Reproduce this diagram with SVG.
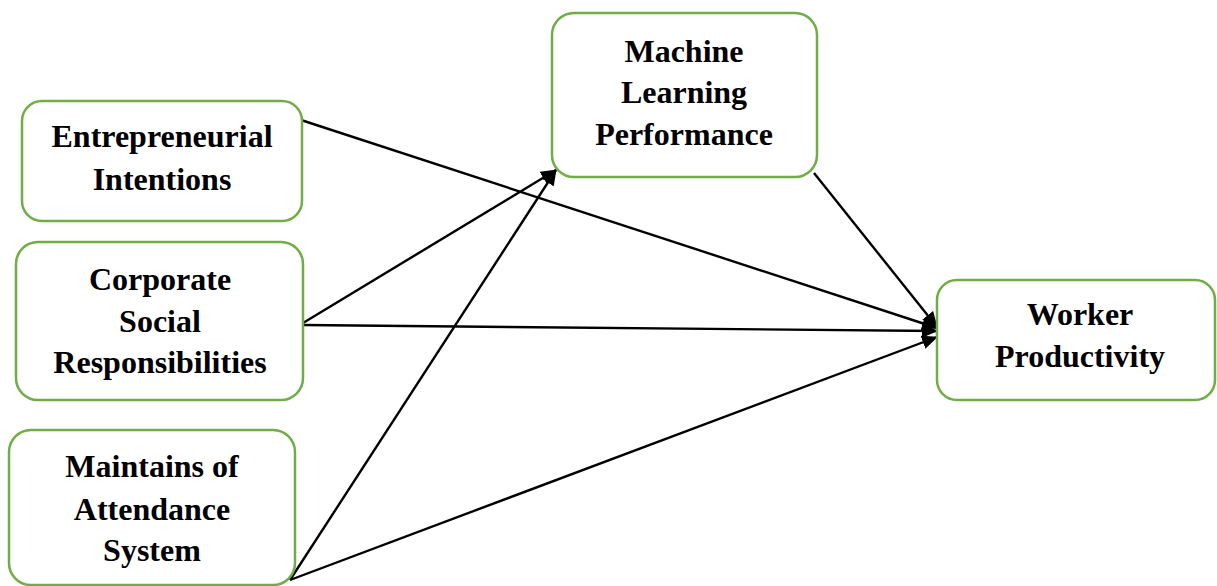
<svg xmlns="http://www.w3.org/2000/svg" width="1217" height="586" viewBox="0 0 1217 586">
<defs>
<style>
.box{fill:#fff;stroke:#70AD47;stroke-width:2.5}
.t{font-family:"Liberation Serif","Times New Roman",serif;font-weight:bold;font-size:32px;fill:#000;text-anchor:middle}
.c{stroke:#000;stroke-width:2.4;fill:none;marker-end:url(#ah)}
</style>
<marker id="ah" markerUnits="userSpaceOnUse" markerWidth="16" markerHeight="14" refX="15" refY="7" orient="auto">
<path d="M0,0 L16,7 L0,14 Z" fill="#000"/>
</marker>
</defs>
<rect width="1217" height="586" fill="#fff"/>
<g id="connectors">
<line class="c" x1="301" y1="120" x2="937" y2="328"/>
<line class="c" x1="303" y1="323" x2="556" y2="170"/>
<line class="c" x1="303" y1="325" x2="937" y2="331"/>
<line class="c" x1="290" y1="580" x2="556" y2="170"/>
<line class="c" x1="290" y1="580" x2="937" y2="337"/>
<line class="c" x1="814" y1="173" x2="937" y2="327"/>
</g>
<g id="entrepreneurial">
<rect class="box" x="22" y="101" width="280" height="120" rx="20"/>
<text class="t" x="162" y="147">Entrepreneurial</text>
<text class="t" x="162" y="190">Intentions</text>
</g>
<g id="corporate">
<rect class="box" x="16" y="242" width="287" height="158" rx="22"/>
<text class="t" x="160" y="290">Corporate</text>
<text class="t" x="160" y="332">Social</text>
<text class="t" x="160" y="373">Responsibilities</text>
</g>
<g id="maintains">
<rect class="box" x="9" y="430" width="286" height="155" rx="22"/>
<text class="t" x="152" y="477">Maintains of</text>
<text class="t" x="152" y="520">Attendance</text>
<text class="t" x="152" y="561">System</text>
</g>
<g id="machine">
<rect class="box" x="552" y="13" width="265" height="164" rx="22"/>
<text class="t" x="684" y="62">Machine</text>
<text class="t" x="684" y="103">Learning</text>
<text class="t" x="684" y="145">Performance</text>
</g>
<g id="worker">
<rect class="box" x="937" y="280" width="278" height="120" rx="20"/>
<text class="t" x="1080" y="325">Worker</text>
<text class="t" x="1080" y="367">Productivity</text>
</g>
</svg>
